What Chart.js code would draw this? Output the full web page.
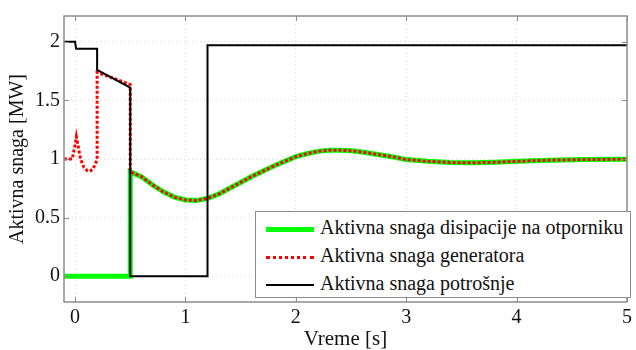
<!DOCTYPE html>
<html>
<head>
<meta charset="utf-8">
<script src="https://cdn.jsdelivr.net/npm/chart.js@4.4.1/dist/chart.umd.min.js"></script>
<style>
  body { margin: 0; background: #fff; }
  #wrap { position: relative; width: 636px; height: 350px; }
  #legend {
    position: absolute; left: 255px; top: 211px; width: 374px; height: 84px;
    border: 1px solid #8c8c8c; background: #fff; padding-top: 1px;
    font-family: 'Liberation Serif', 'Times New Roman', serif; font-size: 20px; color: #111;
  }
  #legend .row { height: 28px; line-height: 28px; white-space: nowrap; }
  #legend .swatch { display: inline-block; width: 48px; height: 0; margin: 0 6px 0 10px; vertical-align: middle; }
</style>
</head>
<body>
<div id="wrap">
  <canvas id="powerChart" width="636" height="350"></canvas>
  <div id="legend"></div>
</div>
<script>
const seriesNames = ['Aktivna snaga disipacije na otporniku', 'Aktivna snaga generatora', 'Aktivna snaga potrošnje'];
const xTickValues = [0, 1, 2, 3, 4, 5];
const xTickLabels = ['0', '1', '2', '3', '4', '5'];
const yTickValues = [0, 0.5, 1, 1.5, 2];
const yTickLabels = ['0', '0.5', '1', '1.5', '2'];

// after 0.5 s generator and resistor power are the same curve
const tailTime = [0.5, 0.6, 0.7, 0.8, 0.9, 1.0, 1.1, 1.2, 1.3, 1.4, 1.5, 1.6, 1.7, 1.8, 1.9, 2.0,
  2.1, 2.2, 2.3, 2.4, 2.5, 2.6, 2.7, 2.8, 2.9, 3.0, 3.2, 3.4, 3.6, 3.8, 4.0, 4.3, 4.6, 5.0];
const tailPower = [0.89, 0.85, 0.78, 0.72, 0.675, 0.65, 0.645, 0.665, 0.70, 0.75, 0.80, 0.85, 0.895, 0.94, 0.98, 1.02,
  1.045, 1.065, 1.075, 1.075, 1.07, 1.06, 1.045, 1.03, 1.015, 0.995, 0.98, 0.97, 0.967, 0.972, 0.98, 0.99, 0.995, 0.998];

const resistorTime = [-0.1, 0.5].concat(tailTime);
const resistorPower = [0, 0].concat(tailPower);

const generatorTime = [-0.1, -0.025, 0.0, 0.012, 0.03, 0.05, 0.08, 0.11, 0.13, 0.16, 0.185, 0.2, 0.2, 0.5].concat(tailTime);
const generatorPower = [1.0, 1.0, 1.12, 1.19, 1.1, 1.0, 0.93, 0.9, 0.895, 0.91, 0.96, 1.0, 1.74, 1.635].concat(tailPower);

const loadTime = [-0.1, 0.0, 0.01, 0.2, 0.2, 0.5, 0.5, 1.2, 1.2, 5.0];
const loadPower = [2.0, 2.0, 1.94, 1.94, 1.76, 1.61, 0, 0, 1.97, 1.97];

const colors = ['#00ff00', '#ff0000', '#000000'];
const FONT = "'Liberation Serif', 'Times New Roman', serif";

function toPoints(ts, ps) {
  return ts.map(function (t, i) { return { x: t, y: ps[i] }; });
}

// box around the plot + inward ticks, like matlab
const framePlugin = {
  id: 'frame',
  afterDatasetsDraw(chart) {
    const ctx = chart.ctx, a = chart.chartArea;
    const xs = chart.scales.x, ys = chart.scales.y;
    ctx.save();
    ctx.strokeStyle = '#8c8c8c';
    ctx.lineWidth = 1;
    ctx.beginPath();
    xTickValues.forEach(function (v) {
      const px = Math.round(xs.getPixelForValue(v)) + 0.5;
      ctx.moveTo(px, a.bottom); ctx.lineTo(px, a.bottom - 5);
      ctx.moveTo(px, a.top); ctx.lineTo(px, a.top + 5);
    });
    yTickValues.forEach(function (v) {
      const py = Math.round(ys.getPixelForValue(v)) + 0.5;
      ctx.moveTo(a.left, py); ctx.lineTo(a.left + 5, py);
      ctx.moveTo(a.right, py); ctx.lineTo(a.right - 5, py);
    });
    ctx.stroke();
    ctx.lineWidth = 1.5;
    ctx.strokeRect(a.left, a.top, a.right - a.left, a.bottom - a.top);
    ctx.restore();
  }
};

const ctx = document.getElementById('powerChart').getContext('2d');
const powerChart = new Chart(ctx, {
  type: 'scatter',
  data: {
    datasets: [
      { label: seriesNames[2], data: toPoints(loadTime, loadPower), borderColor: colors[2], borderWidth: 2, order: 0 },
      { label: seriesNames[1], data: toPoints(generatorTime, generatorPower), borderColor: colors[1], borderWidth: 3, borderDash: [3, 2], order: 1 },
      { label: seriesNames[0], data: toPoints(resistorTime, resistorPower), borderColor: colors[0], borderWidth: 5, order: 2 }
    ]
  },
  options: {
    responsive: false,
    animation: false,
    devicePixelRatio: 1,
    showLine: true,
    elements: { point: { radius: 0 }, line: { tension: 0, fill: false } },
    layout: { padding: { top: 14, right: 5, left: 0, bottom: 0 } },
    plugins: { legend: { display: false }, tooltip: { enabled: false } },
    scales: {
      x: {
        type: 'linear', min: -0.1, max: 5,
        afterBuildTicks: function (s) { s.ticks = xTickValues.map(function (v) { return { value: v }; }); },
        afterFit: function (s) { s.height = 48; },
        grid: { color: '#dadada', drawTicks: false },
        border: { display: false, dash: [1, 3] },
        ticks: {
          padding: 4, color: '#111', font: { family: FONT, size: 20 },
          callback: function (v, i) { return xTickLabels[i]; }
        },
        title: { display: true, text: 'Vreme [s]', color: '#111', padding: 0, font: { family: FONT, size: 21, lineHeight: 1 } }
      },
      y: {
        type: 'linear', min: -0.22, max: 2.22,
        afterBuildTicks: function (s) { s.ticks = yTickValues.map(function (v) { return { value: v }; }); },
        afterFit: function (s) { s.width = 64; },
        grid: { color: '#dadada', drawTicks: false },
        border: { display: false, dash: [1, 3] },
        ticks: {
          padding: 4, color: '#111', font: { family: FONT, size: 20 },
          callback: function (v, i) { return yTickLabels[i]; }
        },
        title: { display: true, text: 'Aktivna snaga [MW]', color: '#111', padding: { top: 8, bottom: 0 }, font: { family: FONT, size: 20, lineHeight: 1 } }
      }
    }
  },
  plugins: [framePlugin]
});

// legend inside the plot, bottom right
const legend = document.getElementById('legend');
const swatchStyles = ['border-top: 5px solid ' + colors[0], 'border-top: 3px dotted ' + colors[1], 'border-top: 2px solid ' + colors[2]];
seriesNames.forEach(function (name, i) {
  const row = document.createElement('div');
  row.className = 'row';
  const sw = document.createElement('span');
  sw.className = 'swatch';
  sw.style.cssText = swatchStyles[i];
  row.appendChild(sw);
  row.appendChild(document.createTextNode(name));
  legend.appendChild(row);
});
</script>
</body>
</html>
